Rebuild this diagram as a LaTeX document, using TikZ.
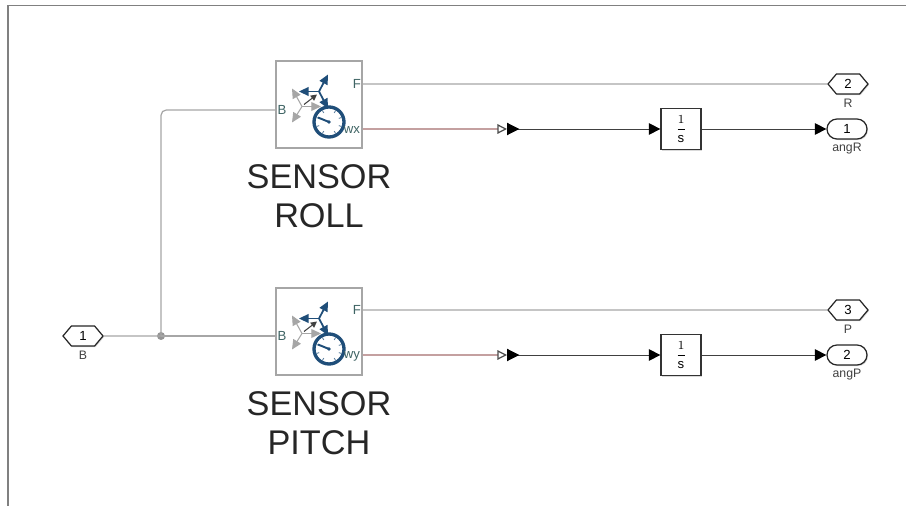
\documentclass[tikz,border=0pt]{standalone}
\usepackage{fontspec}
\setmainfont{Liberation Sans}
\usepackage{xcolor}
\usetikzlibrary{arrows.meta,positioning,shapes.symbols,shapes.misc,shadows}
\definecolor{framegray}{HTML}{808080}
\definecolor{conngray}{HTML}{A6A6A6}
\definecolor{physred}{HTML}{C4A0A0}
\definecolor{iconblue}{HTML}{1F4E79}
\definecolor{labelgreen}{HTML}{3F6464}

\begin{document}
\begin{tikzpicture}[
  x=0.02cm, y=-0.02cm,
  softshadow/.style={drop shadow={opacity=.3, shadow xshift=0.6pt, shadow yshift=-0.6pt}},
  sensorbox/.style={rectangle, draw=conngray, fill=white, line width=0.8pt, minimum width=1.72cm, minimum height=1.74cm},
  gainbox/.style={rectangle, draw=black!80, fill=white, line width=0.7pt, minimum width=0.8cm, minimum height=0.82cm, inner sep=0pt, font=\fontsize{7.5}{8}\selectfont, softshadow},
  hexport/.style={signal, signal to=east and west, signal pointer angle=100, draw=black!85, fill=white, line width=0.7pt, minimum width=0.8cm, minimum height=0.4cm, inner sep=0pt, font=\fontsize{7.5}{8}\selectfont, softshadow},
  outport/.style={rounded rectangle, draw=black!85, fill=white, line width=0.7pt, minimum width=0.8cm, minimum height=0.4cm, inner sep=0pt, font=\fontsize{7.5}{8}\selectfont, softshadow},
  portname/.style={font=\fontsize{7}{8}\selectfont, text=black!75, inner sep=0pt},
  sidelabel/.style={font=\fontsize{7.5}{8}\selectfont, text=labelgreen, inner sep=0pt},
  bigname/.style={font=\fontsize{19.5}{22.4}\selectfont, align=center, text=black!85, inner sep=0pt},
  phys/.style={draw=conngray, line width=0.7pt, rounded corners=3pt},
  physout/.style={draw=physred, line width=0.7pt, -{Triangle[open,black!70,length=5.5pt,width=5.5pt]}},
  sig/.style={draw=black!75, line width=0.5pt, {Triangle[reversed,black,length=7pt,width=7pt]}-{Triangle[black,length=6.5pt,width=6.5pt]}},
  plainsig/.style={draw=black!75, line width=0.5pt, -{Triangle[black,length=6.5pt,width=6.5pt]}},
  sensor icon/.pic={
    % gray base frame
    \draw[conngray, line width=0.6pt, -{Triangle[length=5.5pt,width=5pt]}] (-17,2) -- (-27,-16);
    \draw[conngray, line width=0.6pt, -{Triangle[length=5.5pt,width=5pt]}] (-17,2) -- (-27,18);
    \draw[conngray, line width=0.6pt, -{Triangle[length=5.5pt,width=5pt]}] (-17,2) -- (2,2);
    \draw[black!75, line width=0.6pt, -{Triangle[length=3.5pt,width=3.5pt]}] (-15,0) -- (-2,-10);
    % blue follower frame
    \draw[iconblue, line width=1pt, -{Triangle[length=5.5pt,width=5pt]}] (0,-13) -- (9,-30);
    \draw[iconblue, line width=1pt, -{Triangle[length=5.5pt,width=5pt]}] (0,-13) -- (-20,-13);
    \draw[iconblue, line width=1pt, -{Triangle[length=5.5pt,width=5pt]}] (0,-13) -- (9,4);
    % gauge
    \draw[iconblue, fill=white, line width=1.9pt] (10,17.5) circle (15);
    \foreach \ang in {-60,-20,20,60,120,160,200,240}
      \draw[iconblue!70, line width=0.5pt] (10,17.5) ++(\ang:10.5) -- ++(\ang:3);
    \draw[iconblue, line width=1.1pt] (10,17.5) -- (-1,13);
    \fill[iconblue] (10,17.5) circle (1.8);
  }
]
  \useasboundingbox (0,0) rectangle (906,506);
  \draw[framegray, line width=1.1pt] (8,506) -- (8,5.5) -- (906,5.5);

  % sensors
  \node[sensorbox] (sensR) at (319,104.5) {};
  \node[sensorbox] (sensP) at (319,331.5) {};
  \pic at (sensR.center) {sensor icon};
  \pic at (sensP.center) {sensor icon};
  \node[sidelabel] (rollB) at (282,110) {B};
  \node[sidelabel] (rollF) at (357,84) {F};
  \node[sidelabel] (rollW) at (352,130) {wx};
  \node[sidelabel] (pitchB) at (282,336) {B};
  \node[sidelabel] (pitchF) at (357,310) {F};
  \node[sidelabel] (pitchW) at (352,356) {wy};
  \node[bigname, below=0.31cm of sensR] (nameR) {SENSOR\\ROLL};
  \node[bigname, below=0.31cm of sensP] (nameP) {SENSOR\\PITCH};

  % ports
  \node[hexport] (inB) at (83,336) {1};
  \node[portname, below=0.09cm of inB] (labB) {B};
  \node[hexport] (outR) at (848,84) {2};
  \node[portname, below=0.08cm of outR] (labR) {R};
  \node[outport] (outAngR) at (847,129) {1};
  \node[portname, below=0.07cm of outAngR] (labAngR) {angR};
  \node[hexport] (outP) at (848,310) {3};
  \node[portname, below=0.08cm of outP] (labP) {P};
  \node[outport] (outAngP) at (847,355) {2};
  \node[portname, below=0.07cm of outAngP] (labAngP) {angP};

  % integrators
  \node[gainbox] (intR) at (681,129) {$\displaystyle\frac{1}{\mathrm{s}}$};
  \node[gainbox] (intP) at (681,355) {$\displaystyle\frac{1}{\mathrm{s}}$};

  % connections
  \fill[conngray!90!black] (161,336) circle (4) coordinate (junc);
  \coordinate (convR) at (507,129);
  \coordinate (convP) at (507,355);
  \draw[phys] (inB) -- (junc);
  \draw[phys] (junc) -- (pitchB -| sensP.west);
  \draw[phys] (junc) |- (rollB -| sensR.west);
  \draw[phys] (rollF -| sensR.east) -- (outR);
  \draw[phys] (pitchF -| sensP.east) -- (outP);
  \draw[physout] (sensR.east |- convR) -- (convR);
  \draw[physout] (sensP.east |- convP) -- (convP);
  \draw[sig] (convR) -- (intR);
  \draw[sig] (convP) -- (intP);
  \draw[plainsig] (intR) -- (outAngR);
  \draw[plainsig] (intP) -- (outAngP);
\end{tikzpicture}
\end{document}
